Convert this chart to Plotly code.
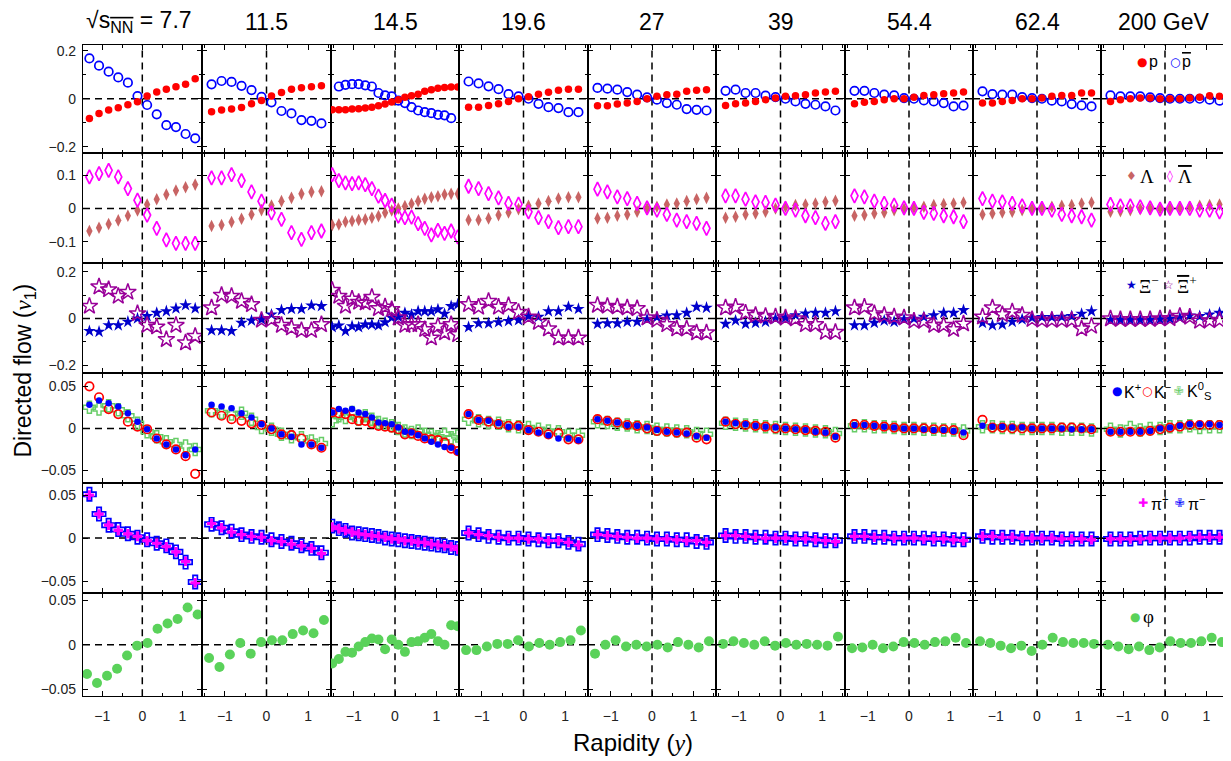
import plotly.graph_objects as go

# The page body has an 8px margin, so the figure is drawn 8px in from the window corner.
OFF = 8
FW, FH = 1231 - OFF, 761 - OFF

# ---------------- data ----------------
energies = ["7.7", "11.5", "14.5", "19.6", "27", "39", "54.4", "62.4", "200"]

rap12 = [-1.32, -1.08, -0.84, -0.60, -0.36, -0.12, 0.12, 0.36, 0.60, 0.84, 1.08, 1.32]
rap20 = [-1.52, -1.36, -1.20, -1.04, -0.88, -0.72, -0.56, -0.40, -0.24, -0.08,
         0.08, 0.24, 0.40, 0.56, 0.72, 0.88, 1.04, 1.20, 1.36, 1.52]
rap18 = [-1.36, -1.20, -1.04, -0.88, -0.72, -0.56, -0.40, -0.24, -0.08,
         0.08, 0.24, 0.40, 0.56, 0.72, 0.88, 1.04, 1.20, 1.36]
rap_phi = [-1.38, -1.13, -0.88, -0.63, -0.38, -0.13, 0.13, 0.38, 0.63, 0.88, 1.13, 1.38]

v1_p = {
    "7.7": [-0.082, -0.061, -0.047, -0.038, -0.025, -0.012, 0.011, 0.028, 0.040, 0.050, 0.061, 0.083],
    "11.5": [-0.054, -0.047, -0.043, -0.036, -0.021, -0.007, 0.011, 0.026, 0.040, 0.046, 0.050, 0.054],
    "14.5": [-0.046, -0.046, -0.046, -0.043, -0.042, -0.039, -0.035, -0.029, -0.022, -0.014,
             -0.004, 0.006, 0.013, 0.019, 0.031, 0.038, 0.044, 0.047, 0.049, 0.049],
    "19.6": [-0.035, -0.035, -0.028, -0.021, -0.011, 0.000, 0.008, 0.019, 0.027, 0.035, 0.040, 0.040],
    "27": [-0.029, -0.029, -0.022, -0.018, -0.011, 0.000, 0.010, 0.017, 0.019, 0.031, 0.035, 0.038],
    "39": [-0.028, -0.021, -0.018, -0.011, -0.004, 0.003, 0.010, 0.013, 0.017, 0.024, 0.028, 0.031],
    "54.4": [-0.021, -0.015, -0.011, -0.004, 0.000, 0.000, 0.006, 0.014, 0.017, 0.021, 0.024, 0.028],
    "62.4": [-0.018, -0.018, -0.011, -0.007, 0.000, 0.000, 0.003, 0.010, 0.014, 0.014, 0.024, 0.024],
    "200": [-0.011, -0.004, 0.000, 0.003, 0.003, 0.000, 0.000, 0.000, 0.003, 0.006, 0.013, 0.010],
}
v1_pbar = {
    "7.7": [0.168, 0.138, 0.113, 0.089, 0.067, 0.011, -0.026, -0.065, -0.110, -0.118, -0.147, -0.165],
    "11.5": [0.060, 0.074, 0.070, 0.054, 0.036, 0.008, -0.015, -0.051, -0.061, -0.089, -0.092, -0.103],
    "14.5": [0.051, 0.058, 0.061, 0.061, 0.056, 0.051, 0.024, 0.014, 0.010, -0.008, -0.018, -0.035,
             -0.049, -0.056, -0.060, -0.067, -0.069, -0.081],
    "19.6": [0.072, 0.064, 0.052, 0.040, 0.019, 0.010, 0.000, -0.021, -0.035, -0.039, -0.056, -0.056],
    "27": [0.045, 0.042, 0.038, 0.028, 0.017, 0.006, -0.004, -0.018, -0.025, -0.043, -0.046, -0.049],
    "39": [0.033, 0.038, 0.024, 0.024, 0.013, 0.007, 0.000, -0.011, -0.021, -0.025, -0.032, -0.049],
    "54.4": [0.033, 0.033, 0.024, 0.017, 0.014, 0.003, 0.000, -0.007, -0.011, -0.018, -0.032, -0.029],
    "62.4": [0.031, 0.019, 0.017, 0.017, 0.007, 0.003, 0.000, -0.008, -0.011, -0.022, -0.028, -0.032],
    "200": [0.014, 0.010, 0.010, 0.010, 0.006, 0.003, 0.000, 0.000, 0.000, 0.000, -0.004, -0.008],
}
v1_lam = {
    "7.7": [-0.068, -0.058, -0.047, -0.036, -0.022, -0.006, 0.012, 0.028, 0.042, 0.054, 0.064, 0.072],
    "11.5": [-0.053, -0.050, -0.041, -0.031, -0.018, -0.005, 0.009, 0.022, 0.032, 0.044, 0.050, 0.052],
    "14.5": [-0.050, -0.048, -0.040, -0.038, -0.035, -0.033, -0.028, -0.023, -0.013, -0.006,
             0.000, 0.007, 0.014, 0.022, 0.029, 0.034, 0.037, 0.042, 0.044, 0.044],
    "19.6": [-0.035, -0.035, -0.030, -0.020, -0.012, -0.002, 0.008, 0.015, 0.022, 0.030, 0.034, 0.034],
    "27": [-0.030, -0.028, -0.022, -0.018, -0.010, 0.000, 0.005, 0.012, 0.015, 0.022, 0.028, 0.032],
    "39": [-0.028, -0.025, -0.018, -0.015, -0.010, 0.000, 0.005, 0.010, 0.012, 0.015, 0.020, 0.023],
    "54.4": [-0.022, -0.020, -0.015, -0.012, -0.005, -0.002, 0.002, 0.005, 0.010, 0.013, 0.015, 0.018],
    "62.4": [-0.018, -0.015, -0.012, -0.010, -0.005, -0.002, 0.002, 0.005, 0.008, 0.010, 0.015, 0.018],
    "200": [-0.010, -0.008, -0.005, -0.002, 0.000, 0.000, 0.000, 0.002, 0.005, 0.008, 0.010, 0.012],
}
v1_lbar = {
    "7.7": [0.095, 0.105, 0.115, 0.095, 0.060, 0.025, -0.020, -0.060, -0.095, -0.105, -0.105, -0.105],
    "11.5": [0.092, 0.092, 0.102, 0.084, 0.050, 0.022, -0.013, -0.033, -0.073, -0.093, -0.073, -0.068],
    "14.5": [0.102, 0.084, 0.077, 0.075, 0.077, 0.072, 0.060, 0.037, 0.024, 0.010,
             -0.023, -0.028, -0.026, -0.046, -0.060, -0.080, -0.066, -0.075, -0.068, -0.086],
    "19.6": [0.067, 0.060, 0.045, 0.032, 0.015, 0.013, -0.010, -0.028, -0.040, -0.058, -0.055, -0.055],
    "27": [0.058, 0.050, 0.035, 0.030, 0.015, 0.002, -0.005, -0.018, -0.035, -0.040, -0.045, -0.060],
    "39": [0.038, 0.038, 0.028, 0.020, 0.018, 0.010, 0.000, -0.005, -0.022, -0.028, -0.045, -0.040],
    "54.4": [0.038, 0.035, 0.022, 0.015, 0.010, 0.002, 0.000, -0.012, -0.015, -0.022, -0.025, -0.040],
    "62.4": [0.030, 0.022, 0.020, 0.015, 0.008, 0.000, 0.000, -0.005, -0.018, -0.022, -0.025, -0.035],
    "200": [0.012, 0.008, 0.008, 0.005, 0.002, -0.002, 0.000, 0.000, 0.000, -0.005, -0.005, -0.010],
}
v1_xim = {
    "7.7": [-0.054, -0.057, -0.029, -0.029, -0.014, 0.000, 0.010, 0.024, 0.031, 0.043, 0.057, 0.043],
    "11.5": [-0.051, -0.051, -0.054, -0.019, -0.009, -0.004, 0.017, 0.036, 0.041, 0.041, 0.056, 0.053],
    "14.5": [-0.037, -0.030, -0.054, -0.033, -0.037, -0.026, -0.026, -0.030, -0.016, 0.003,
             0.007, 0.024, 0.017, 0.031, 0.031, 0.031, 0.039, 0.020, 0.053, 0.060],
    "19.6": [-0.037, -0.021, -0.021, -0.016, -0.011, -0.007, 0.010, 0.007, 0.031, 0.031, 0.050, 0.041],
    "27": [-0.023, -0.021, -0.021, -0.014, -0.014, -0.004, 0.006, 0.013, 0.014, 0.024, 0.050, 0.046],
    "39": [-0.023, -0.009, -0.023, -0.019, -0.014, -0.001, 0.003, 0.014, 0.021, 0.024, 0.024, 0.031],
    "54.4": [-0.029, -0.029, -0.019, -0.009, -0.014, -0.004, -0.001, 0.007, 0.014, 0.024, 0.024, 0.036],
    "62.4": [-0.019, -0.029, -0.026, -0.014, -0.004, 0.003, 0.006, 0.006, 0.007, 0.010, 0.020, 0.031],
    "200": [-0.007, -0.007, -0.007, -0.007, -0.007, -0.004, -0.001, 0.003, 0.013, 0.010, 0.017, 0.024],
}
v1_xibar = {
    "7.7": [0.053, 0.136, 0.124, 0.096, 0.113, 0.021, -0.029, -0.036, -0.090, -0.029, -0.104, -0.076],
    "11.5": [0.046, 0.100, 0.096, 0.074, 0.060, -0.007, -0.004, -0.029, -0.040, -0.051, -0.051, -0.026],
    "14.5": [0.121, 0.096, 0.053, 0.084, 0.070, 0.067, 0.091, 0.043, 0.050, 0.039,
             0.003, -0.029, -0.026, -0.026, -0.047, -0.083, -0.033, -0.061, -0.026, -0.069],
    "19.6": [0.060, 0.049, 0.074, 0.049, 0.056, 0.027, 0.007, -0.016, -0.044, -0.083, -0.083, -0.083],
    "27": [0.057, 0.053, 0.050, 0.046, 0.043, 0.003, -0.007, -0.026, -0.044, -0.044, -0.061, -0.061],
    "39": [0.046, 0.049, 0.024, 0.014, 0.010, 0.007, 0.003, -0.001, -0.026, -0.026, -0.059, -0.059],
    "54.4": [0.046, 0.049, 0.021, 0.014, 0.007, 0.003, -0.011, -0.011, -0.029, -0.029, -0.047, -0.023],
    "62.4": [0.007, 0.046, 0.017, 0.029, 0.014, -0.004, -0.007, -0.007, -0.007, -0.007, -0.044, -0.033],
    "200": [-0.001, -0.004, -0.004, -0.004, -0.004, -0.001, 0.000, 0.010, 0.006, -0.011, -0.009, -0.007],
}
v1_kp = {
    "7.7": [0.028, 0.033, 0.030, 0.026, 0.018, 0.008, -0.001, -0.012, -0.019, -0.025, -0.032, -0.025],
    "11.5": [0.028, 0.026, 0.024, 0.018, 0.013, 0.005, 0.000, -0.007, -0.010, -0.019, -0.019, -0.023],
    "14.5": [0.019, 0.023, 0.021, 0.023, 0.019, 0.017, 0.013, 0.007, 0.006, 0.005,
             0.001, -0.004, -0.005, -0.008, -0.012, -0.016, -0.019, -0.022, -0.023, -0.028],
    "19.6": [0.017, 0.010, 0.009, 0.006, 0.002, 0.002, -0.002, -0.005, -0.008, -0.012, -0.012, -0.014],
    "27": [0.011, 0.009, 0.007, 0.004, 0.003, 0.001, -0.002, -0.004, -0.005, -0.006, -0.009, -0.011],
    "39": [0.008, 0.006, 0.005, 0.003, 0.002, 0.001, 0.000, -0.001, -0.002, -0.004, -0.005, -0.010],
    "54.4": [0.004, 0.004, 0.003, 0.002, 0.001, 0.000, 0.000, -0.001, -0.002, -0.002, -0.003, -0.005],
    "62.4": [0.003, 0.002, 0.002, 0.001, 0.001, 0.000, 0.000, 0.000, 0.000, -0.001, -0.001, -0.001],
    "200": [-0.004, -0.004, -0.004, -0.004, -0.003, 0.000, 0.001, 0.003, 0.005, 0.005, 0.005, 0.004],
}
v1_km = {
    "7.7": [0.050, 0.037, 0.023, 0.017, 0.008, 0.002, -0.001, -0.012, -0.019, -0.025, -0.033, -0.054],
    "11.5": [0.019, 0.015, 0.011, 0.009, 0.006, 0.004, -0.001, -0.007, -0.008, -0.012, -0.019, -0.023],
    "14.5": [0.019, 0.018, 0.017, 0.011, 0.009, 0.009, 0.006, 0.003, 0.002, 0.001,
             -0.001, -0.007, -0.006, -0.009, -0.012, -0.013, -0.014, -0.017, -0.024, -0.027],
    "19.6": [0.017, 0.010, 0.008, 0.005, 0.003, 0.003, -0.002, -0.004, -0.007, -0.006, -0.013, -0.013],
    "27": [0.011, 0.009, 0.007, 0.004, 0.003, 0.000, -0.003, -0.004, -0.005, -0.005, -0.011, -0.013],
    "39": [0.008, 0.005, 0.004, 0.003, 0.002, 0.000, 0.000, -0.001, -0.002, -0.003, -0.004, -0.011],
    "54.4": [0.005, 0.004, 0.003, 0.002, 0.001, 0.000, 0.000, 0.000, -0.001, -0.001, -0.002, -0.008],
    "62.4": [0.010, 0.001, 0.001, 0.000, 0.000, 0.000, 0.000, 0.000, 0.001, 0.001, 0.000, -0.001],
    "200": [-0.004, -0.004, -0.004, -0.004, -0.003, -0.001, 0.001, 0.002, 0.004, 0.004, 0.004, 0.004],
}
v1_k0s = {
    "7.7": [0.025, 0.023, 0.027, 0.022, 0.015, 0.006, -0.004, -0.010, -0.016, -0.019, -0.021, -0.025],
    "11.5": [0.021, 0.019, 0.017, 0.018, 0.011, 0.001, -0.001, -0.007, -0.010, -0.011, -0.015, -0.018],
    "14.5": [0.009, 0.015, 0.013, 0.019, 0.011, 0.015, 0.011, 0.007, 0.005, 0.003,
             0.000, -0.003, -0.005, -0.003, -0.007, -0.008, -0.010, -0.007, -0.011, -0.009],
    "19.6": [0.011, 0.009, 0.007, 0.006, 0.003, 0.002, 0.001, -0.001, -0.003, -0.004, -0.008, -0.008],
    "27": [0.008, 0.007, 0.005, 0.004, 0.002, 0.001, -0.001, -0.002, -0.003, -0.004, -0.006, -0.007],
    "39": [0.006, 0.005, 0.004, 0.003, 0.002, 0.001, 0.000, -0.001, -0.002, -0.003, -0.004, -0.006],
    "54.4": [0.003, 0.003, 0.002, 0.002, 0.001, 0.000, 0.000, -0.001, -0.001, -0.002, -0.002, -0.003],
    "62.4": [0.002, 0.002, 0.001, 0.001, 0.000, 0.000, 0.000, 0.000, -0.001, -0.001, -0.001, -0.002],
    "200": [-0.001, -0.003, 0.001, -0.002, 0.000, 0.000, 0.002, 0.002, 0.003, 0.001, 0.002, 0.002],
}
v1_pip = {
    "7.7": [0.050, 0.028, 0.015, 0.009, 0.005, 0.002, -0.003, -0.006, -0.010, -0.016, -0.027, -0.052],
    "11.5": [0.017, 0.012, 0.007, 0.004, 0.002, 0.001, -0.003, -0.004, -0.007, -0.009, -0.012, -0.018],
    "14.5": [0.013, 0.011, 0.009, 0.007, 0.005, 0.004, 0.003, 0.002, 0.001, -0.001,
             -0.001, -0.003, -0.003, -0.005, -0.005, -0.007, -0.008, -0.009, -0.010, -0.013],
    "19.6": [0.006, 0.004, 0.003, 0.001, 0.000, 0.000, -0.001, -0.001, -0.003, -0.003, -0.005, -0.008],
    "27": [0.004, 0.003, 0.002, 0.001, 0.000, 0.000, -0.001, -0.001, -0.002, -0.003, -0.003, -0.005],
    "39": [0.003, 0.003, 0.002, 0.001, 0.000, 0.000, 0.000, -0.001, -0.001, -0.002, -0.003, -0.004],
    "54.4": [0.002, 0.002, 0.001, 0.001, 0.000, 0.000, 0.000, -0.001, -0.001, -0.001, -0.002, -0.003],
    "62.4": [0.002, 0.002, 0.001, 0.001, 0.000, 0.000, 0.000, 0.000, -0.001, -0.001, -0.001, -0.002],
    "200": [-0.001, -0.001, -0.001, -0.001, 0.000, 0.000, 0.000, 0.000, 0.001, 0.001, 0.001, 0.001],
}
v1_pim = {
    "7.7": [0.051, 0.028, 0.015, 0.010, 0.005, 0.001, -0.002, -0.006, -0.009, -0.016, -0.028, -0.051],
    "11.5": [0.016, 0.012, 0.008, 0.004, 0.002, 0.001, -0.002, -0.004, -0.006, -0.009, -0.012, -0.017],
    "14.5": [0.014, 0.011, 0.009, 0.006, 0.005, 0.004, 0.003, 0.002, 0.000, -0.001,
             -0.002, -0.003, -0.004, -0.005, -0.006, -0.007, -0.008, -0.009, -0.011, -0.012],
    "19.6": [0.006, 0.004, 0.002, 0.001, 0.000, 0.000, -0.001, -0.002, -0.003, -0.003, -0.005, -0.007],
    "27": [0.004, 0.003, 0.002, 0.001, 0.001, 0.000, -0.001, -0.001, -0.002, -0.002, -0.004, -0.005],
    "39": [0.003, 0.002, 0.002, 0.001, 0.001, 0.000, 0.000, -0.001, -0.001, -0.002, -0.003, -0.003],
    "54.4": [0.002, 0.002, 0.001, 0.001, 0.000, 0.000, 0.000, 0.000, -0.001, -0.001, -0.002, -0.002],
    "62.4": [0.002, 0.001, 0.001, 0.001, 0.000, 0.000, 0.000, 0.000, -0.001, -0.001, -0.001, -0.001],
    "200": [-0.001, -0.001, -0.001, 0.000, 0.000, 0.000, 0.000, 0.000, 0.000, 0.001, 0.001, 0.001],
}
v1_phi = {
    "7.7": [-0.033, -0.043, -0.035, -0.027, -0.012, -0.001, 0.002, 0.018, 0.024, 0.029, 0.042, 0.034],
    "11.5": [-0.015, -0.025, -0.011, 0.002, -0.010, 0.003, 0.005, 0.005, 0.012, 0.016, 0.013, 0.028],
    "14.5": [-0.021, -0.016, -0.008, -0.009, -0.002, 0.003, 0.007, 0.006, -0.005, 0.006,
             0.000, -0.008, 0.003, 0.004, 0.008, 0.012, 0.004, 0.000, 0.022, 0.021],
    "19.6": [-0.006, -0.006, -0.002, 0.001, 0.001, 0.005, -0.002, 0.002, 0.000, 0.003, 0.005, 0.016],
    "27": [-0.010, 0.000, 0.005, -0.002, 0.000, -0.002, 0.000, -0.003, 0.003, 0.000, -0.003, 0.004],
    "39": [0.001, 0.004, 0.002, 0.000, 0.004, -0.001, 0.002, 0.000, 0.001, 0.000, -0.001, 0.009],
    "54.4": [-0.004, -0.003, 0.000, -0.004, -0.002, 0.003, 0.002, 0.000, 0.003, 0.004, 0.008, 0.002],
    "62.4": [0.004, 0.002, -0.001, -0.004, -0.001, -0.007, 0.000, 0.008, 0.003, 0.002, 0.002, 0.001],
    "200": [0.000, -0.002, -0.005, -0.002, -0.006, -0.003, 0.004, 0.002, 0.002, 0.004, 0.008, 0.003],
}

# ---------------- styles ----------------
def mk(symbol, color, size, lw=0):
    d = dict(symbol=symbol, color=color, size=size)
    d["line"] = dict(color=color, width=lw) if lw else dict(width=0)
    return d

rows = [
    dict(series=[(v1_pbar, mk("circle-open", "#0000FF", 8.5, 1.7), rap12),
                 (v1_p, mk("circle", "#FF0000", 7.5), rap12)],
         yrange=[-0.228, 0.226], tickvals=[-0.2, 0, 0.2], ticktext=["\u22120.2", "0", "0.2"], minor=True),
    dict(series=[(v1_lam, mk("diamond-tall", "#C86464", 9), rap12),
                 (v1_lbar, mk("diamond-tall-open", "#FF00FF", 10, 1.7), rap12)],
         yrange=[-0.166, 0.166], tickvals=[-0.1, 0, 0.1], ticktext=["\u22120.1", "0", "0.1"], minor=False),
    dict(series=[(v1_xim, mk("star", "#0000CC", 9.5), rap12),
                 (v1_xibar, mk("star-open", "#990099", 12.5, 1.5), rap12)],
         yrange=[-0.235, 0.236], tickvals=[-0.2, 0, 0.2], ticktext=["\u22120.2", "0", "0.2"], minor=True),
    dict(series=[(v1_k0s, mk("cross-open", "#66CC66", 10, 1.5), rap12),
                 (v1_km, mk("circle-open", "#FF0000", 8.5, 1.7), rap12),
                 (v1_kp, mk("circle", "#0000FF", 6.5), rap12)],
         yrange=[-0.065, 0.0655], tickvals=[-0.05, 0, 0.05], ticktext=["\u22120.05", "0", "0.05"], minor=False),
    dict(series=[(v1_pim, mk("cross-open", "#0000FF", 11, 1.7), rap12),
                 (v1_pip, mk("cross", "#FF00FF", 8), rap12)],
         yrange=[-0.0635, 0.064], tickvals=[-0.05, 0, 0.05], ticktext=["\u22120.05", "0", "0.05"], minor=False),
    dict(series=[(v1_phi, mk("circle", "#5AD25A", 10), rap_phi)],
         yrange=[-0.058, 0.0587], tickvals=[-0.05, 0, 0.05], ticktext=["\u22120.05", "0", "0.05"], minor=False),
]

# panel edges in window pixels
col_edges = [83, 202, 331, 459, 588, 716, 845, 973, 1101, 1229]
row_edges = [42.7, 152, 262.5, 372.7, 483, 593, 697]
xranges = [[-1.48, 1.49]] + [[-1.55, 1.55]] * 8


def px(x):
    return (x - OFF) / FW


def py(y):
    return 1 - (y - OFF) / FH


FONT = "Liberation Sans, Arial, sans-serif"
fig = go.Figure()
layout = dict(
    width=FW, height=FH, margin=dict(l=0, r=0, t=0, b=0),
    paper_bgcolor="white", plot_bgcolor="white",
    font=dict(family=FONT, color="black"), showlegend=False,
)
shapes = []

for r, row in enumerate(rows):
    for c, e in enumerate(energies):
        idx = r * 9 + c + 1
        sfx = "" if idx == 1 else str(idx)
        xa, ya = "x" + sfx, "y" + sfx
        for data, marker, rap_default in row["series"]:
            yv = data[e]
            if len(yv) == 20:
                xv = rap20
            elif len(yv) == 18:
                xv = rap18
            else:
                xv = rap_default
            fig.add_trace(go.Scatter(x=xv, y=yv, mode="markers", marker=marker,
                                     xaxis=xa, yaxis=ya, showlegend=False,
                                     hoverinfo="skip", cliponaxis=True))
        axcommon = dict(showline=True, mirror="ticks", linecolor="black", linewidth=1.2,
                        ticks="inside", ticklen=5, tickwidth=1.2, tickcolor="black",
                        showgrid=False, zeroline=False, fixedrange=True,
                        tickfont=dict(family=FONT, size=14, color="#222222"))
        layout["xaxis" + sfx] = dict(
            axcommon, domain=[px(col_edges[c]), px(col_edges[c + 1])], range=xranges[c],
            anchor=ya, tickmode="array", tickvals=[-1, 0, 1], ticktext=["\u22121", "0", "1"],
            showticklabels=(r == 5), ticklabelstandoff=7,
            minor=dict(ticks="inside", ticklen=3, tickwidth=1.0, tickcolor="black",
                       tickmode="array", tickvals=[-1.5, -0.5, 0.5, 1.5]),
        )
        ymin = dict(ticks="inside", ticklen=3, tickwidth=1.0, tickcolor="black")
        if row["minor"]:
            ymin.update(tickmode="array", tickvals=[-0.1, 0.1])
        else:
            ymin.update(ticks="")
        layout["yaxis" + sfx] = dict(
            axcommon, domain=[py(row_edges[r + 1]), py(row_edges[r])], range=row["yrange"],
            anchor=xa, tickmode="array", tickvals=row["tickvals"], ticktext=row["ticktext"],
            showticklabels=(c == 0), ticklabelstandoff=3, minor=ymin,
        )
        dash = dict(color="black", width=1.5, dash="7px,5px")
        shapes.append(dict(type="line", xref=xa, yref=ya + " domain", x0=0, x1=0, y0=0, y1=1,
                           line=dash, layer="below"))
        shapes.append(dict(type="line", xref=xa + " domain", yref=ya, x0=0, x1=1, y0=0, y1=0,
                           line=dash, layer="below"))

layout["shapes"] = shapes

ann = []
# energy headers
OL = "<span style='text-decoration:overline'>%s</span>"
for c, e in enumerate(energies):
    x0, x1 = col_edges[c], col_edges[c + 1]
    r0, r1 = xranges[c]
    xz = x0 + (0 - r0) / (r1 - r0) * (x1 - x0)
    if c == 0:
        ann.append(dict(text="\u221A" + OL % "s<sub>NN</sub>" + " = " + e, x=px(194), xanchor="right"))
    elif c == 8:
        ann.append(dict(text=e + " GeV", x=px(xz - 2), xanchor="center"))
    else:
        ann.append(dict(text=e, x=px(xz), xanchor="center"))
for a in ann:
    a.update(xref="paper", yref="paper", y=py(20), yanchor="middle", showarrow=False,
             font=dict(family=FONT, size=23, color="black"))

# axis titles
ann.append(dict(text="Directed flow (<span style='font-family:Liberation Serif'><i>v</i></span><sub>1</sub>)",
                x=px(25), y=py(370), xref="paper", yref="paper", textangle=-90,
                xanchor="center", yanchor="middle",
                showarrow=False, font=dict(family=FONT, size=23, color="black")))
ann.append(dict(text="Rapidity (<span style='font-family:Liberation Serif'><i>y</i></span>)",
                x=px(633), y=py(743), xref="paper", yref="paper",
                xanchor="center", yanchor="middle",
                showarrow=False, font=dict(family=FONT, size=24, color="black")))

# legend glyphs and labels (inside the 200 GeV panels)
legend_items = [
    # (glyph, color, glyph_x, label, label_x, y, serif)
    ("\u25CF", "#FF0000", 1142, "p", 1147, 60, False),
    ("\u25CB", "#0000FF", 1175, OL % "p", 1180, 60, False),
    ("\u2666", "#C86464", 1131, "\u039B", 1138, 175, True),
    ("\u25CA", "#FF00FF", 1170, OL % "\u039B", 1176, 175, True),
    ("\u2605", "#0000CC", 1131, "\u039E<sup>\u2212</sup>", 1137, 284, True),
    ("\u2606", "#990099", 1168, OL % "\u039E" + "<sup>+</sup>", 1175, 284, True),
    ("\u25CF", "#0000FF", 1117, "K<sup>+</sup>", 1122, 391, False),
    ("\u25CB", "#FF0000", 1147, "K<sup>\u2212</sup>", 1152, 391, False),
    ("\u2719", "#66CC66", 1179, "K<sup>0</sup><sub>S</sub>", 1185, 391, False),
    ("\u271A", "#FF00FF", 1143, "\u03C0<sup>+</sup>", 1149, 503, False),
    ("\u2719", "#0000FF", 1180, "\u03C0<sup>\u2212</sup>", 1186, 503, False),
    ("\u25CF", "#5AD25A", 1135, "\u03C6", 1141, 617, True),
]
for g, col, gx, lab, lx, y, serif in legend_items:
    ann.append(dict(text=g, x=px(gx), y=py(y), xref="paper", yref="paper", xanchor="center",
                    yanchor="middle", showarrow=False,
                    font=dict(family="DejaVu Sans", size=12, color=col)))
    ann.append(dict(text=lab, x=px(lx), y=py(y), xref="paper", yref="paper", xanchor="left",
                    yanchor="middle", showarrow=False,
                    font=dict(family=("Liberation Serif" if serif else FONT),
                              size=(19 if serif else 16), color="black")))

layout["annotations"] = ann
fig.update_layout(**layout)
fig.write_html("out.html")
